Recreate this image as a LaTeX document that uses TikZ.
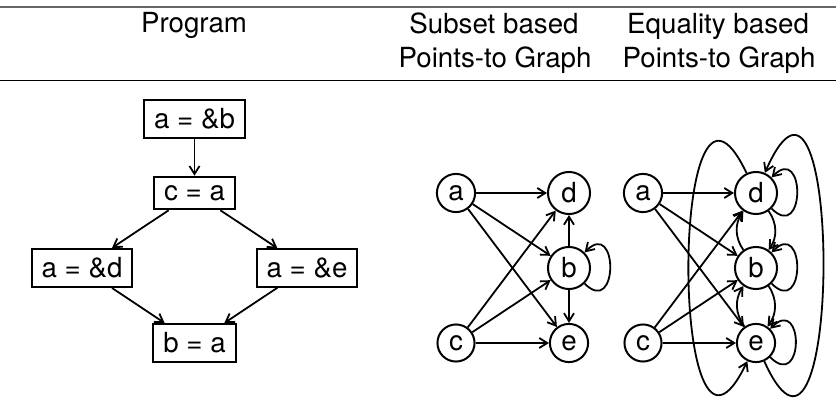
\documentclass[tikz,border=0pt]{standalone}
\usepackage{fontspec}
\setmainfont{TeX Gyre Heros}
\usetikzlibrary{arrows.meta}
\begin{document}
\begin{tikzpicture}[x=1pt,y=1pt,
  every node/.style={font=\fontsize{27.7pt}{34pt}\selectfont},
  hdr/.style={anchor=base, inner sep=0pt},
  stmt/.style={draw, rectangle, line width=2pt, inner xsep=10pt, inner ysep=8.6pt},
  var/.style={draw, circle, line width=2pt, inner sep=5.8pt},
  edge/.style={line width=1.8pt, -{Straight Barb[length=8pt,width=10pt]}},
  selfloop/.style={out=-45, in=45, distance=48pt},
  rule/.style={line width=1.5pt}]
\useasboundingbox (0,0) rectangle (836,-398);

% table rules
\draw[rule, black!60, line width=2.2pt] (0,-7.3) -- (836,-7.3);
\draw[rule] (0,-80.7) -- (836,-80.7);

% column headings
\node[hdr] (hProg) at (194,-33) {Program};
\node[hdr] (hSubA) at (494,-34) {Subset based};
\node[hdr] (hSubB) at (495,-68) {Points-to Graph};
\node[hdr] (hEqA)  at (718,-34) {Equality based};
\node[hdr] (hEqB)  at (719,-68) {Points-to Graph};

% program (control flow graph)
\node[stmt] (s1) at (194.5,-119) {a = \&b};
\node[stmt] (s2) at (194.5,-193) {c = a};
\node[stmt] (s3) at (82,-268)    {a = \&d};
\node[stmt] (s4) at (307,-268)   {a = \&e};
\node[stmt] (s5) at (194.5,-343) {b = a};
\draw[edge] (s1) -- (s2);
\draw[edge] (s2) -- (s3);
\draw[edge] (s2) -- (s4);
\draw[edge] (s3) -- (s5);
\draw[edge] (s4) -- (s5);

% subset based points-to graph
\node[var] (pa) at (456,-193) {a};
\node[var] (pd) at (569,-193) {d};
\node[var] (pb) at (569,-268) {b};
\node[var] (pc) at (456,-343) {c};
\node[var] (pe) at (569,-343) {e};
\draw[edge] (pa) -- (pd);
\draw[edge] (pa) -- (pb);
\draw[edge] (pa) -- (pe);
\draw[edge] (pc) -- (pd);
\draw[edge] (pc) -- (pb);
\draw[edge] (pc) -- (pe);
\draw[edge] (pb) -- (pd);
\draw[edge] (pb) -- (pe);
\draw[edge] (pb) to[selfloop] (pb);

% equality based points-to graph
\node[var] (qa) at (643,-193) {a};
\node[var] (qd) at (756,-193) {d};
\node[var] (qb) at (756,-268) {b};
\node[var] (qc) at (643,-343) {c};
\node[var] (qe) at (756,-343) {e};
\draw[edge] (qa) -- (qd);
\draw[edge] (qa) -- (qb);
\draw[edge] (qa) -- (qe);
\draw[edge] (qc) -- (qd);
\draw[edge] (qc) -- (qb);
\draw[edge] (qc) -- (qe);
\draw[edge] (qd) to[bend left=35] (qb);
\draw[edge] (qb) to[bend left=35] (qd);
\draw[edge] (qb) to[bend left=35] (qe);
\draw[edge] (qe) to[bend left=35] (qb);
\draw[edge] (qd) to[selfloop] (qd);
\draw[edge] (qb) to[selfloop] (qb);
\draw[edge] (qe) to[selfloop] (qe);
\draw[edge] (qd) .. controls (669,-10) and (669,-525) .. (qe);
\draw[edge] (qe) .. controls (843,-535) and (843,5) .. (qd);
\end{tikzpicture}
\end{document}
